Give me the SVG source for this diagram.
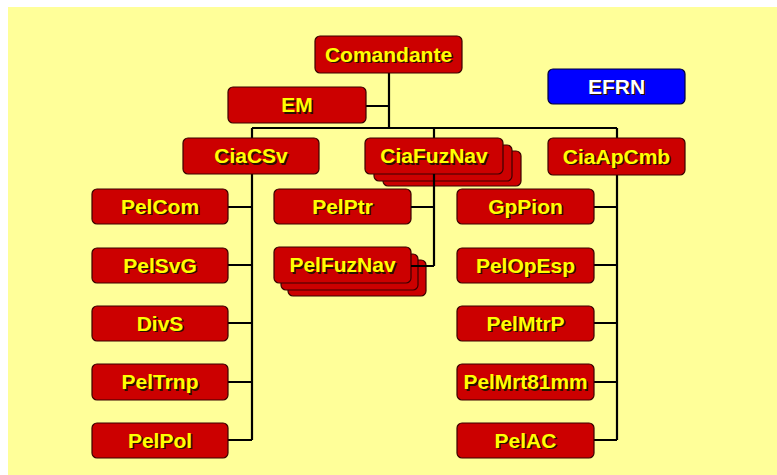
<svg xmlns="http://www.w3.org/2000/svg" width="777" height="475" viewBox="0 0 777 475">
<style>
.bx{fill:#CC0000;stroke:#3a0000;stroke-width:1.2}
.bl{fill:#0000FF;stroke:#00003a;stroke-width:1.2}
.t{font-family:"Liberation Sans",Arial,sans-serif;font-weight:bold;font-size:21px;text-anchor:middle}
.sh{fill:#2a1000}
.y{fill:#FFFF00}
.w{fill:#FFFFFF}
.c{stroke:#000;stroke-width:2.2;fill:none}
</style>
<rect x="0" y="0" width="777" height="475" fill="#FFFFFF"/>
<rect x="8" y="7" width="769" height="468" fill="#FFFF99"/>
<g id="connectors">
<path class="c" d="M389 73V128M366 106H389M252 128H617M252 128V138M434 128V138M617 128V138M252 174V440M228 207H252M228 265H252M228 323H252M228 382H252M228 440H252M617 175V440M594 207H617M594 265H617M594 323H617M594 382H617M594 440H617"/>
</g>
<g id="n-comandante"><rect class="bx" x="315" y="36" width="147" height="37" rx="5"/><text class="t sh" x="390" y="63">Comandante</text><text class="t y" x="388.5" y="61.5">Comandante</text></g>
<g id="n-em"><rect class="bx" x="228" y="87" width="138" height="36" rx="5"/><text class="t sh" x="298.5" y="113.5">EM</text><text class="t y" x="297" y="112">EM</text></g>
<g id="n-efrn"><rect class="bl" x="548" y="69" width="137" height="35" rx="5"/><text class="t sh" x="618" y="95">EFRN</text><text class="t w" x="616.5" y="93.5">EFRN</text></g>
<g id="n-ciacsv"><rect class="bx" x="183" y="138" width="136" height="36" rx="5"/><text class="t sh" x="252.5" y="164.5">CiaCSv</text><text class="t y" x="251" y="163">CiaCSv</text></g>
<g id="n-ciafuznav">
<rect class="bx" x="383" y="151" width="138" height="35" rx="5"/>
<rect class="bx" x="374" y="145" width="138" height="36" rx="5"/>
<rect class="bx" x="365" y="138" width="138" height="36" rx="5"/>
<text class="t sh" x="435.5" y="164.5">CiaFuzNav</text><text class="t y" x="434" y="163">CiaFuzNav</text></g>
<g id="n-ciaapcmb"><rect class="bx" x="548" y="138" width="137" height="37" rx="5"/><text class="t sh" x="618" y="165">CiaApCmb</text><text class="t y" x="616.5" y="163.5">CiaApCmb</text></g>
<g id="n-pelcom"><rect class="bx" x="92" y="189" width="136" height="35" rx="5"/><text class="t sh" x="161.5" y="215">PelCom</text><text class="t y" x="160" y="213.5">PelCom</text></g>
<g id="n-pelsvg"><rect class="bx" x="92" y="248" width="136" height="35" rx="5"/><text class="t sh" x="161.5" y="274">PelSvG</text><text class="t y" x="160" y="272.5">PelSvG</text></g>
<g id="n-divs"><rect class="bx" x="92" y="306" width="136" height="35" rx="5"/><text class="t sh" x="161.5" y="332">DivS</text><text class="t y" x="160" y="330.5">DivS</text></g>
<g id="n-peltrnp"><rect class="bx" x="92" y="364" width="136" height="36" rx="5"/><text class="t sh" x="161.5" y="390.5">PelTrnp</text><text class="t y" x="160" y="389">PelTrnp</text></g>
<g id="n-pelpol"><rect class="bx" x="92" y="423" width="136" height="35" rx="5"/><text class="t sh" x="161.5" y="449">PelPol</text><text class="t y" x="160" y="447.5">PelPol</text></g>
<g id="n-pelptr"><rect class="bx" x="274" y="189" width="137" height="35" rx="5"/><text class="t sh" x="344" y="215">PelPtr</text><text class="t y" x="342.5" y="213.5">PelPtr</text></g>
<g id="n-pelfuznav">
<rect class="bx" x="288" y="260" width="138" height="36" rx="5"/>
<rect class="bx" x="281" y="254" width="137" height="36" rx="5"/>
<rect class="bx" x="274" y="247" width="137" height="36" rx="5"/>
<text class="t sh" x="344" y="273.5">PelFuzNav</text><text class="t y" x="342.5" y="272">PelFuzNav</text></g>
<g id="n-gppion"><rect class="bx" x="457" y="189" width="137" height="35" rx="5"/><text class="t sh" x="527" y="215">GpPion</text><text class="t y" x="525.5" y="213.5">GpPion</text></g>
<g id="n-pelopesp"><rect class="bx" x="457" y="248" width="137" height="35" rx="5"/><text class="t sh" x="527" y="274">PelOpEsp</text><text class="t y" x="525.5" y="272.5">PelOpEsp</text></g>
<g id="n-pelmtrp"><rect class="bx" x="457" y="306" width="137" height="35" rx="5"/><text class="t sh" x="527" y="332">PelMtrP</text><text class="t y" x="525.5" y="330.5">PelMtrP</text></g>
<g id="n-pelmrt81mm"><rect class="bx" x="457" y="364" width="137" height="36" rx="5"/><text class="t sh" x="527" y="390.5" textLength="124" lengthAdjust="spacingAndGlyphs">PelMrt81mm</text><text class="t y" x="525.5" y="389" textLength="124" lengthAdjust="spacingAndGlyphs">PelMrt81mm</text></g>
<g id="n-pelac"><rect class="bx" x="457" y="423" width="137" height="35" rx="5"/><text class="t sh" x="527" y="449">PelAC</text><text class="t y" x="525.5" y="447.5">PelAC</text></g>
<g id="connectors-front">
<path class="c" d="M434 174V266M411 207H434M411 266H434"/>
</g>
</svg>
